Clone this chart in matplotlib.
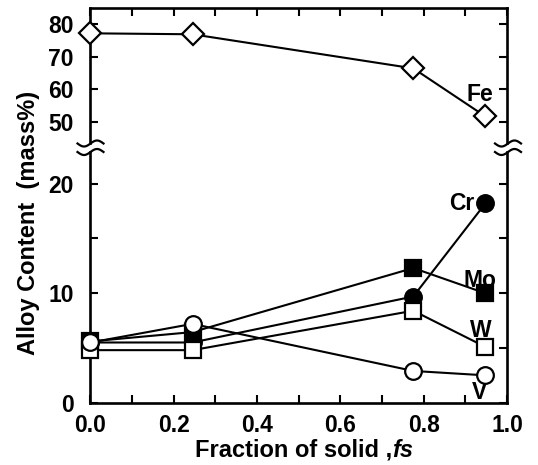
import numpy as np
import matplotlib
matplotlib.use("Agg")
import matplotlib.pyplot as plt
from matplotlib.lines import Line2D

plt.rcParams['font.family'] = ['Liberation Sans', 'DejaVu Sans']
plt.rcParams['font.weight'] = 'bold'

fs = [0.0, 0.245, 0.775, 0.948]
fe = [77.2, 76.9, 66.4, 51.6]
cr = [5.5, 5.5, 9.7, 18.2]
mo = [5.6, 6.45, 12.3, 10.0]
w = [4.8, 4.8, 8.4, 5.1]
v = [5.5, 7.2, 2.9, 2.5]

xticks = [0.0, 0.2, 0.4, 0.6, 0.8, 1.0]
xticklabels = ['0.0', '0.2', '0.4', '0.6', '0.8', '1.0']
top_ticks = [50, 60, 70, 80]
bot_ticks = [0, 10, 20]

W, H = 538, 465
fig = plt.figure(figsize=(W / 100, H / 100), dpi=100)

L, R = 90.5, 507.0
def rect(top, bot):
    return [L / W, 1 - bot / H, (R - L) / W, (bot - top) / H]

axt = fig.add_axes(rect(8, 143))
axb = fig.add_axes(rect(152, 402.7))

lw = 1.5
ms_c = 12
ms_s = 11
mew = 1.6

axt.plot(fs, fe, '-', color='k', lw=lw, marker='D', ms=11, mfc='white', mec='k',
         mew=mew, clip_on=False, zorder=5)

axb.plot(fs, mo, '-', color='k', lw=lw, marker='s', ms=ms_s, mfc='k', mec='k', mew=mew, clip_on=False, zorder=5)
axb.plot(fs, cr, '-', color='k', lw=lw, marker='o', ms=ms_c, mfc='k', mec='k', mew=mew, clip_on=False, zorder=5)
axb.plot(fs, w, '-', color='k', lw=lw, marker='s', ms=ms_s, mfc='white', mec='k', mew=mew, clip_on=False, zorder=5)
axb.plot(fs, v, '-', color='k', lw=lw, marker='o', ms=ms_c, mfc='white', mec='k', mew=mew, clip_on=False, zorder=5)

for ax in (axt, axb):
    ax.set_xlim(0, 1)
    for s in ax.spines.values():
        s.set_linewidth(1.9)
    ax.set_xticks(np.arange(0, 1.001, 0.1))
    ax.tick_params(axis='both', direction='in', length=6, width=1.5,
                   labelsize=16.5, pad=12, right=True, top=True)

axt.set_ylim(43.4, 85.0)
axt.set_yticks(top_ticks)
axt.set_yticklabels([str(t) for t in top_ticks])
axt.spines['bottom'].set_visible(False)
axt.tick_params(axis='x', bottom=False, labelbottom=False, top=True)

axb.set_ylim(0, 22.9)
axb.set_yticks([0, 5, 10, 15, 20])
axb.set_yticklabels(['0', '', '10', '', '20'])
axb.spines['top'].set_visible(False)
axb.tick_params(axis='x', top=False, pad=8)
axb.set_xticks(np.arange(0, 1.001, 0.1))
axb.set_xticklabels([xticklabels[i // 2] if i % 2 == 0 else '' for i in range(11)])

fsz = 16.5
axt.text(0.935, 58.2, 'Fe', ha='center', va='center', fontsize=fsz, fontweight='bold')
axb.text(0.921, 18.2, 'Cr', ha='right', va='center', fontsize=fsz, fontweight='bold')
axb.text(0.935, 11.2, 'Mo', ha='center', va='center', fontsize=fsz, fontweight='bold')
axb.text(0.937, 6.6, 'W', ha='center', va='center', fontsize=fsz, fontweight='bold')
axb.text(0.935, 0.97, 'V', ha='center', va='center', fontsize=fsz, fontweight='bold')

fig.text(29 / W, 1 - 223 / H, 'Alloy Content  (mass%)', rotation=90,
         ha='center', va='center', fontsize=17, fontweight='bold')
fig.text(392 / W, 1 - 450 / H, 'Fraction of solid ,', ha='right', va='center',
         fontsize=17, fontweight='bold')
fig.text(392 / W, 1 - 450 / H, 'fs', ha='left', va='center',
         fontsize=17, fontweight='bold', style='italic')

# break marks
t = np.linspace(-1, 1, 60)
for cx in (L, R + 1):
    for cy in (143.5, 152.0):
        xs = cx + 13 * t
        ys = cy + 3.0 * np.sin(np.pi * t) * -1
        fig.add_artist(Line2D(xs / W, 1 - ys / H, color='k', lw=1.6,
                              transform=fig.transFigure))

fig.savefig('out.png', dpi=100)
